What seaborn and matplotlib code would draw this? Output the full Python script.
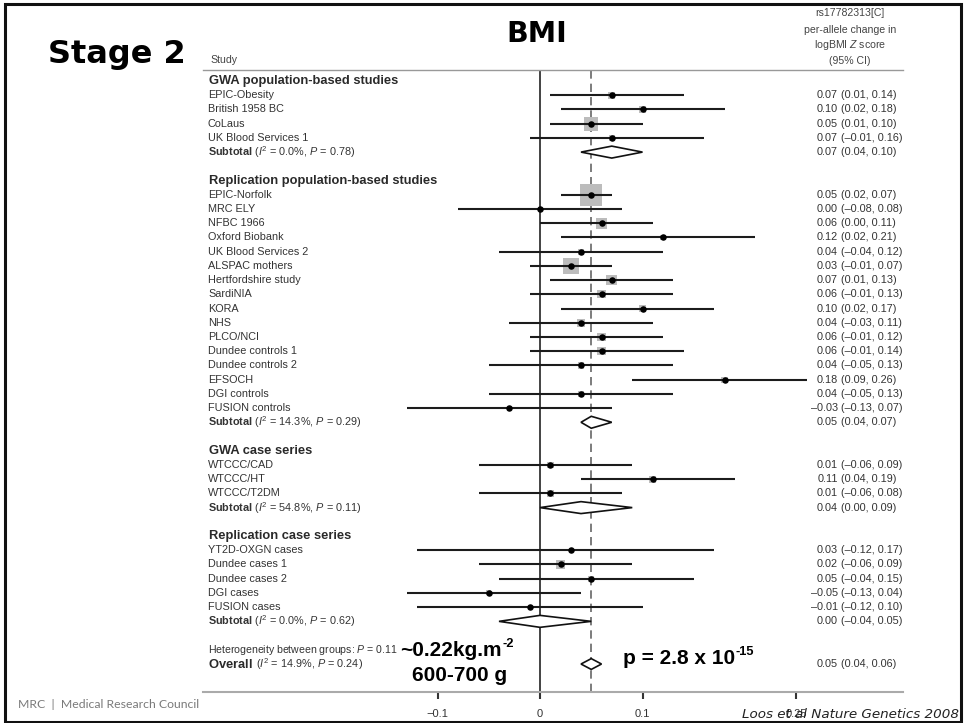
import numpy as np
import pandas as pd
import matplotlib
matplotlib.use("Agg")
import matplotlib.pyplot as plt
from matplotlib.patches import Rectangle, Polygon
import seaborn as sns

# ---------------- data ----------------
group_names = ["GWA population-based studies",
               "Replication population-based studies",
               "GWA case series",
               "Replication case series"]

g1_studies = ["EPIC-Obesity", "British 1958 BC", "CoLaus", "UK Blood Services 1"]
g1_est = [0.07, 0.10, 0.05, 0.07]
g1_lo = [0.01, 0.02, 0.01, -0.01]
g1_hi = [0.14, 0.18, 0.10, 0.16]
g1_w = [1.5, 1.5, 6.0, 1.2]

g2_studies = ["EPIC-Norfolk", "MRC ELY", "NFBC 1966", "Oxford Biobank", "UK Blood Services 2",
              "ALSPAC mothers", "Hertfordshire study", "SardiNIA", "KORA", "NHS", "PLCO/NCI",
              "Dundee controls 1", "Dundee controls 2", "EFSOCH", "DGI controls", "FUSION controls"]
g2_est = [0.05, 0.00, 0.06, 0.12, 0.04, 0.03, 0.07, 0.06, 0.10, 0.04, 0.06, 0.06, 0.04, 0.18, 0.04, -0.03]
g2_lo = [0.02, -0.08, 0.00, 0.02, -0.04, -0.01, 0.01, -0.01, 0.02, -0.03, -0.01, -0.01, -0.05, 0.09, -0.05, -0.13]
g2_hi = [0.07, 0.08, 0.11, 0.21, 0.12, 0.07, 0.13, 0.13, 0.17, 0.11, 0.12, 0.14, 0.13, 0.26, 0.13, 0.07]
g2_w = [15.0, 0.6, 3.7, 1.0, 1.2, 7.5, 3.5, 2.0, 1.5, 2.2, 2.2, 2.0, 1.2, 1.2, 1.2, 0.8]

g3_studies = ["WTCCC/CAD", "WTCCC/HT", "WTCCC/T2DM"]
g3_est = [0.01, 0.11, 0.01]
g3_lo = [-0.06, 0.04, -0.06]
g3_hi = [0.09, 0.19, 0.08]
g3_w = [1.4, 1.4, 1.6]

g4_studies = ["YT2D-OXGN cases", "Dundee cases 1", "Dundee cases 2", "DGI cases", "FUSION cases"]
g4_est = [0.03, 0.02, 0.05, -0.05, -0.01]
g4_lo = [-0.12, -0.06, -0.04, -0.13, -0.12]
g4_hi = [0.17, 0.09, 0.15, 0.04, 0.10]
g4_w = [0.4, 2.5, 1.0, 0.8, 0.6]

sub_est = [0.07, 0.05, 0.04, 0.00]
sub_lo = [0.04, 0.04, 0.00, -0.04]
sub_hi = [0.10, 0.07, 0.09, 0.05]
sub_i2 = ["0.0", "14.3", "54.8", "0.0"]
sub_p = ["0.78", "0.29", "0.11", "0.62"]

overall_est, overall_lo, overall_hi = 0.05, 0.04, 0.06
overall_i2, overall_p = "14.9", "0.24"
between_p = "0.11"

tick_vals = [-0.1, 0, 0.1, 0.25]
tick_labels = ["\u22120.1", "0", "0.1", "0.25"]

groups = [
    (g1_studies, g1_est, g1_lo, g1_hi, g1_w),
    (g2_studies, g2_est, g2_lo, g2_hi, g2_w),
    (g3_studies, g3_est, g3_lo, g3_hi, g3_w),
    (g4_studies, g4_est, g4_lo, g4_hi, g4_w),
]

# ---------------- style ----------------
sns.set_theme(style="white")
plt.rcParams["font.family"] = ["Liberation Sans", "DejaVu Sans"]
plt.rcParams["mathtext.fontset"] = "custom"
plt.rcParams["mathtext.rm"] = "Liberation Sans"
plt.rcParams["mathtext.it"] = "Liberation Sans:italic"
plt.rcParams["mathtext.bf"] = "Liberation Sans:bold"

W, H = 965, 723
fig = plt.figure(figsize=(W / 100, H / 100), dpi=100)
fig.patch.set_facecolor("white")


def fx(px):
    return px / W


def fy(py):
    return 1 - py / H


ax_l, ax_r, ax_t, ax_b = 203, 903, 70, 692
ax = fig.add_axes([fx(ax_l), fy(ax_b), fx(ax_r - ax_l), (ax_b - ax_t) / H])

PX_PER_UNIT = 1025.0
X0 = 540
ROW0 = 81
ROWH = 14.22


def dx(px):
    return (px - X0) / PX_PER_UNIT


ax.set_xlim(dx(ax_l), dx(ax_r))
ax.set_ylim((ax_b - ROW0) / ROWH, (ax_t - ROW0) / ROWH)

# ---------------- build rows ----------------
records = []
header_rows = []
sub_rows = []
r = 0
for gi, (names, est, lo, hi, w) in enumerate(groups):
    header_rows.append(r)
    for k, nm in enumerate(names):
        records.append(dict(study=nm, row=r + 1 + k, est=est[k], lo=lo[k], hi=hi[k], w=w[k]))
    sub_rows.append(r + 1 + len(names))
    r = r + len(names) + 3
het_row = r
overall_row = r + 1
df = pd.DataFrame(records)

# ---------------- marks ----------------
side_max_px = 22.0
smax = (side_max_px * 0.72) ** 2
sns.scatterplot(data=df, x="est", y="row", size="w", sizes=(0, smax), size_norm=(0, 15),
                marker="s", color="#bcbcbc", linewidth=0, legend=False, ax=ax, zorder=2)
ax.hlines(df["row"], df["lo"], df["hi"], color="#1c1c1c", lw=1.5, zorder=3)
sns.scatterplot(data=df, x="est", y="row", color="black", s=22, linewidth=0,
                legend=False, ax=ax, zorder=4)


def diamond(y, lo, est, hi, h):
    poly = Polygon([(lo, y), (est, y - h), (hi, y), (est, y + h)], closed=True,
                   facecolor="white", edgecolor="#111111", lw=1.2, zorder=5)
    ax.add_patch(poly)


for i, sr in enumerate(sub_rows):
    diamond(sr, sub_lo[i], sub_est[i], sub_hi[i], 0.42)
diamond(overall_row, overall_lo, overall_est, overall_hi, 0.38)

ax.axvline(0, color="#222222", lw=1.2, zorder=1)
ax.axvline(overall_est, color="#666666", lw=1.2, dashes=(5, 3), zorder=1)

# ---------------- texts ----------------
lab_x = dx(208)
txt_col = "#333333"
for gi, hr in enumerate(header_rows):
    ax.text(dx(209), hr, group_names[gi], fontsize=9.3, fontweight="bold", color="#2a2a2a",
            va="center", ha="left")
for _, rec in df.iterrows():
    ax.text(lab_x, rec["row"], rec["study"], fontsize=7.8, color=txt_col, va="center", ha="left")


def fmt(v):
    s = f"{v:.2f}"
    return s.replace("-", "\u2013")


est_x = dx(838)
ci_x = dx(841)


def ci_text(row, e, lo, hi):
    ax.text(est_x, row, fmt(e), fontsize=7.8, color=txt_col, va="center", ha="right")
    ax.text(ci_x, row, f"({fmt(lo)}, {fmt(hi)})", fontsize=7.8, color=txt_col, va="center", ha="left")


for _, rec in df.iterrows():
    ci_text(rec["row"], rec["est"], rec["lo"], rec["hi"])
for i, sr in enumerate(sub_rows):
    ax.text(lab_x, sr, r"$\mathbf{Subtotal}$ ($I^2$ = " + sub_i2[i] + r"%, $P$ = " + sub_p[i] + ")",
            fontsize=7.8, color=txt_col, va="center", ha="left")
    ci_text(sr, sub_est[i], sub_lo[i], sub_hi[i])

ax.text(lab_x, het_row, r"Heterogeneity between groups: $P$ = " + between_p,
        fontsize=7.6, color=txt_col, va="center", ha="left")
ax.text(lab_x, overall_row, r"$\mathbf{Overall}$", fontsize=9.3, color="#2a2a2a",
        va="center", ha="left")
ax.text(dx(256), overall_row, r"($I^2$ = " + overall_i2 + r"%, $P$ = " + overall_p + ")",
        fontsize=7.8, color=txt_col, va="center", ha="left")
ci_text(overall_row, overall_est, overall_lo, overall_hi)

# ---------------- axes styling ----------------
for s in ["left", "right"]:
    ax.spines[s].set_visible(False)
ax.spines["top"].set_color("#999999")
ax.spines["top"].set_linewidth(1.0)
ax.spines["bottom"].set_color("#aaaaaa")
ax.spines["bottom"].set_linewidth(1.5)
ax.set_yticks([])
ax.set_xticks(tick_vals)
ax.set_xticklabels(tick_labels)
ax.tick_params(axis="x", direction="out", length=5, width=1.5, color="#333333",
               labelsize=8, labelcolor="#333333", pad=7, bottom=True)
ax.set_xlabel("")
ax.set_ylabel("")
ax.set_facecolor("white")
ax.patch.set_alpha(0)

# ---------------- header / annotations ----------------
fig.text(fx(210), fy(60), "Study", fontsize=7.6, color="#444444", ha="left", va="center")
fig.text(fx(48), fy(63), "Stage 2", fontsize=23, fontweight="bold", family="DejaVu Sans",
         color="black", ha="left", va="baseline")
fig.text(fx(537), fy(42), "BMI", fontsize=20.5, fontweight="bold", family="DejaVu Sans",
         color="black", ha="center", va="baseline")
hdr = ["rs17782313[C]", "per-allele change in", r"logBMI $Z$ score", "(95% CI)"]
for t, yy in zip(hdr, [13, 30, 45, 61]):
    fig.text(fx(850), fy(yy), t, fontsize=7.6, color="#444444", ha="center", va="center")

renderer = fig.canvas.get_renderer()


def with_sup(x, y, base, sup, size=15.0):
    t = fig.text(fx(x), fy(y), base, fontsize=size, fontweight="bold", color="black",
                 ha="left", va="baseline")
    bb = t.get_window_extent(renderer=renderer)
    fig.text(bb.x1 / W + 0.5 / W, fy(y - 0.42 * size * 100 / 72), sup, fontsize=size * 0.62,
             fontweight="bold", color="black", ha="left", va="baseline")


with_sup(400, 656, "~0.22kg.m", "-2")
fig.text(fx(412), fy(681), "600-700 g", fontsize=15, fontweight="bold",
         color="black", ha="left", va="baseline")
with_sup(623, 664, "p = 2.8 x 10", "-15")

fig.text(fx(959), fy(718), "Loos et al Nature Genetics 2008", fontsize=9.7, style="italic",
         family="DejaVu Sans", color="#222222", ha="right", va="baseline")
fig.text(fx(18), fy(708), "MRC  |  Medical Research Council", fontsize=8.8, family="Lato",
         color="#7a7a7a", ha="left", va="baseline")

# slide frame
fig.patches.append(Rectangle((fx(5), fy(722)), fx(956), (722 - 4) / H, transform=fig.transFigure,
                             fill=False, edgecolor="#111111", lw=2.2, zorder=10))

fig.savefig("out.png", dpi=100)
